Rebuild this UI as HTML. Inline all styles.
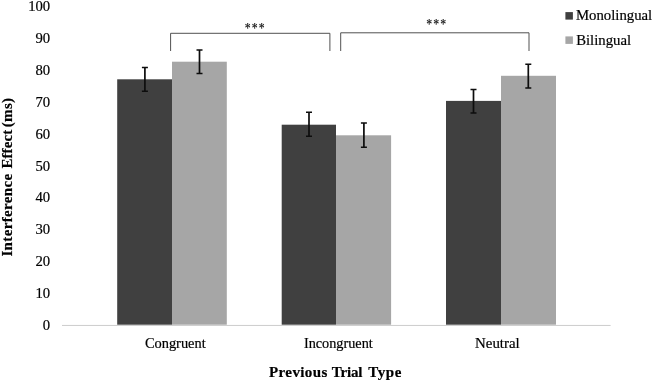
<!DOCTYPE html>
<html>
<head>
<meta charset="utf-8">
<style>
html,body{margin:0;padding:0;background:#fff;}
body{width:654px;height:382px;overflow:hidden;position:relative;}
svg{position:absolute;left:0;top:0;display:block;will-change:transform;}
text{font-family:"Liberation Serif",serif;fill:#000;stroke:#000;stroke-width:0.2px;}
.yt{font-size:14.7px;text-anchor:end;}
.xl{font-size:14.4px;text-anchor:middle;}
.b{font-weight:bold;font-size:15px;}
.lg{font-size:14.75px;}
.st{font-size:14px;text-anchor:middle;stroke-width:0.15px;}
</style>
</head>
<body>
<svg width="654" height="382" viewBox="0 0 654 382">
  <!-- axis -->
  <line x1="62" y1="325.45" x2="610.6" y2="325.45" stroke="#cccccc" stroke-width="1"/>
  <!-- bars -->
  <rect x="172" y="61.7" width="54.8" height="263" fill="#a6a6a6"/>
  <rect x="336" y="135.3" width="55.1" height="189.4" fill="#a6a6a6"/>
  <rect x="501" y="75.8" width="55" height="248.9" fill="#a6a6a6"/>
  <rect x="117.2" y="79.3" width="54.8" height="245.4" fill="#404040"/>
  <rect x="281.7" y="124.7" width="54.3" height="200" fill="#404040"/>
  <rect x="446" y="100.9" width="55" height="223.8" fill="#404040"/>
  <!-- error bars -->
  <path d="M144.9 67.5V91.3M199.5 49.9V73.5M309 112.3V136.3M363.9 123.1V147.3M473.5 89.5V113M528.3 64.3V87.9" stroke="#0d0d0d" stroke-width="1.7" fill="none"/>
  <path d="M141.9 67.5H147.9M141.9 91.3H147.9M196.5 49.9H202.5M196.5 73.5H202.5M306.0 112.3H312.0M306.0 136.3H312.0M360.9 123.1H366.9M360.9 147.3H366.9M470.5 89.5H476.5M470.5 113H476.5M525.3 64.3H531.3M525.3 87.9H531.3" stroke="#0d0d0d" stroke-width="1.5" fill="none"/>
  <!-- brackets -->
  <g stroke="#484848" stroke-width="0.95" fill="none">
    <path d="M170.6 51V33.3H329.9V51"/>
    <path d="M340.7 51V32.8H529.0V51"/>
  </g>
  <!-- legend -->
  <rect x="565.4" y="12.1" width="7.5" height="7.5" fill="#404040"/>
  <rect x="565.4" y="36.4" width="7.5" height="7.5" fill="#a6a6a6"/>
  <text class="lg" x="576" y="20.2">Monolingual</text>
  <text class="lg" x="576.2" y="44.7">Bilingual</text>
  <!-- y ticks -->
  <g class="yt">
    <text x="50.2" y="11.40">100</text>
    <text x="50.2" y="43.22">90</text>
    <text x="50.2" y="75.04">80</text>
    <text x="50.2" y="106.86">70</text>
    <text x="50.2" y="138.68">60</text>
    <text x="50.2" y="170.50">50</text>
    <text x="50.2" y="202.32">40</text>
    <text x="50.2" y="234.14">30</text>
    <text x="50.2" y="265.96">20</text>
    <text x="50.2" y="297.78">10</text>
    <text x="50.2" y="329.60">0</text>
  </g>
  <!-- x labels -->
  <text class="xl" x="175.3" y="348">Congruent</text>
  <text class="xl" x="338.35" y="348.1" style="font-size:14.25px">Incongruent</text>
  <text class="xl" x="497.4" y="347.8" style="font-size:14.9px">Neutral</text>
  <g class="b">
    <text x="269.0" y="377.2" style="letter-spacing:0.4px">Previous</text>
    <text x="331.7" y="377.2" style="letter-spacing:-0.15px">Trial</text>
    <text x="368.2" y="377.2" style="letter-spacing:0.6px">Type</text>
  </g>
  <g class="b" transform="translate(11.9,0) rotate(-90)">
    <text x="-256.6" y="0" style="letter-spacing:0.35px">Interference</text>
    <text x="-168.6" y="0" style="letter-spacing:0.1px">Effect</text>
    <text x="-127.2" y="0" style="letter-spacing:0.3px">(ms)</text>
  </g>
  <text class="st" transform="translate(255.15,33.35) scale(0.84,1)" style="letter-spacing:1.3px">***</text>
  <text class="st" transform="translate(436.8,29.2) scale(0.84,1)" style="letter-spacing:1.3px">***</text>
</svg>
</body>
</html>
